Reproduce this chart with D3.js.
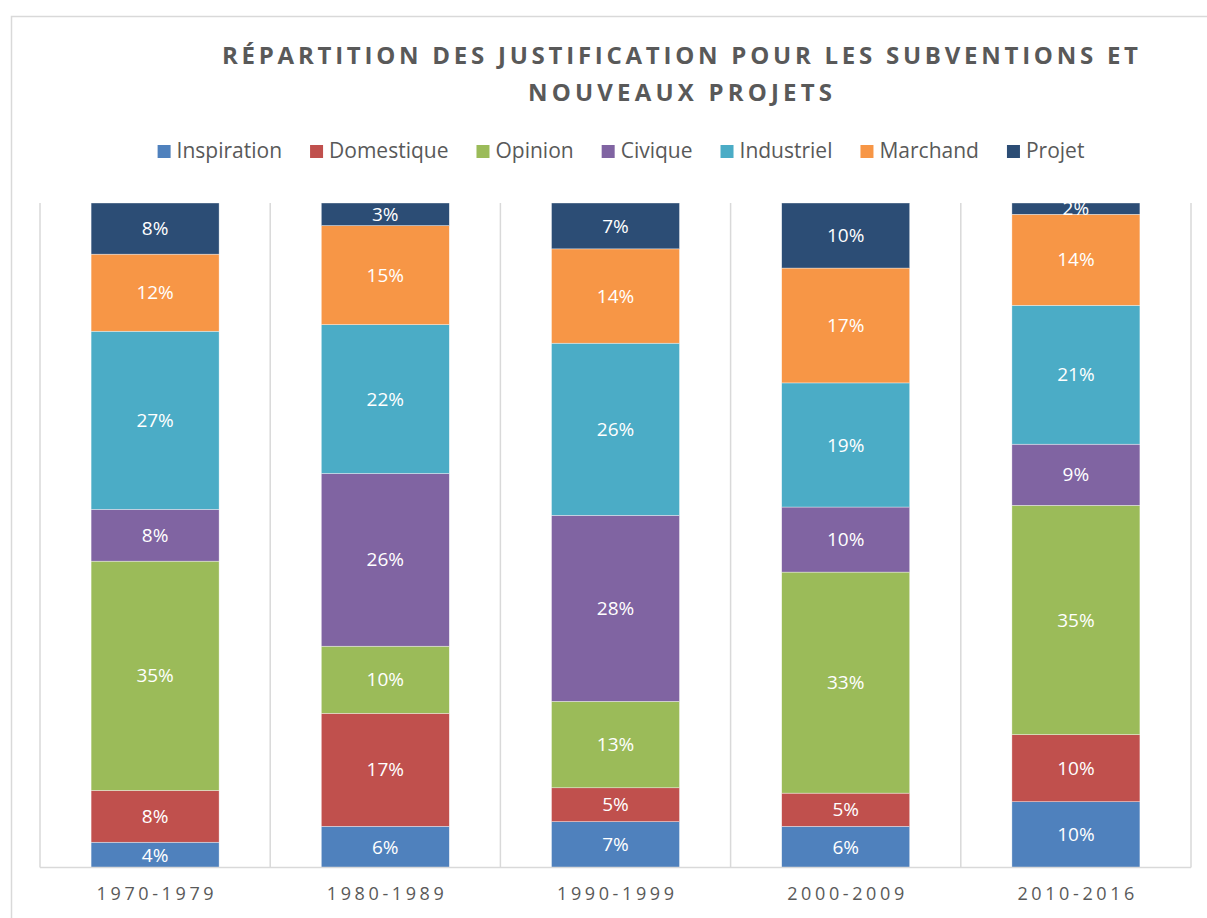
<!DOCTYPE html>
<html>
<head>
<meta charset="utf-8">
<script src="https://cdn.jsdelivr.net/npm/d3@7"></script>
<style>
  html, body { margin: 0; padding: 0; background: #fff; }
  svg { display: block; font-family: "Open Sans", "DejaVu Sans", sans-serif; }
</style>
</head>
<body>
<svg id="chart" width="1207" height="918"></svg>
<script>
// periods on the x axis
const periods = ['1970-1979', '1980-1989', '1990-1999', '2000-2009', '2010-2016'];
const seriesNames = ['Inspiration', 'Domestique', 'Opinion', 'Civique', 'Industriel', 'Marchand', 'Projet'];
const seriesColors = ['#4F81BD', '#C0504D', '#9BBB59', '#8064A2', '#4BACC6', '#F79646', '#2C4D75'];

// shares (%) per period, one array per series
const inspiration = [3.8, 6.2, 6.9, 6.2, 9.9];
const domestique  = [7.8, 17.0, 5.1, 5.0, 10.1];
const opinion     = [34.5, 10.1, 13.0, 33.3, 34.5];
const civique     = [7.8, 26.0, 28.0, 9.8, 9.2];
const industriel  = [26.8, 22.4, 25.9, 18.7, 20.9];
const marchand    = [11.6, 14.9, 14.2, 17.3, 13.7];
const projet      = [7.7, 3.4, 6.9, 9.8, 1.7];

const titleLines = ['RÉPARTITION DES JUSTIFICATION POUR LES SUBVENTIONS ET', 'NOUVEAUX PROJETS'];

const seriesValues = [inspiration, domestique, opinion, civique, industriel, marchand, projet];
const rows = periods.map((p, i) => {
  const r = { period: p };
  seriesNames.forEach((s, k) => r[s] = seriesValues[k][i]);
  return r;
});

const svg = d3.select('#chart');
const textColor = '#595959';
const gridColor = '#D9D9D9';

// outer chart frame
svg.append('rect')
  .attr('x', 11.5).attr('y', 16.5)
  .attr('width', 1300).attr('height', 1000)
  .attr('fill', 'none').attr('stroke', gridColor).attr('stroke-width', 1.5);

// title
svg.append('g').selectAll('text').data(titleLines).enter().append('text')
  .attr('x', 680)
  .attr('y', (d, i) => 64 + i * 37)
  .attr('text-anchor', 'middle')
  .attr('font-size', 24).attr('font-weight', 700)
  .attr('fill', textColor)
  .attr('textLength', (d, i) => i === 0 ? 916 : 304)
  .attr('lengthAdjust', 'spacing')
  .text(d => d);

// legend
const legend = svg.append('g');
let lx = 0;
seriesNames.forEach((s, i) => {
  const g = legend.append('g');
  g.append('rect').attr('x', 0).attr('y', -13).attr('width', 13).attr('height', 13)
    .attr('fill', seriesColors[i]);
  const t = g.append('text').attr('x', 19).attr('y', 0)
    .attr('font-size', 21).attr('fill', textColor).text(s);
  const w = 19 + t.node().getComputedTextLength();
  g.attr('transform', `translate(${lx},158)`);
  lx += w + 28;
});
const legendW = lx - 28;
legend.attr('transform', `translate(${621 - legendW / 2},0)`);

// scales
const plotTop = 203, plotBottom = 867.5, plotLeft = 40, plotRight = 1191;
const x = d3.scaleBand().domain(periods).range([plotLeft, plotRight])
  .paddingInner(0.444).paddingOuter(0.222);
const y = d3.scaleLinear().domain([0, 1]).range([plotBottom, plotTop]);

// vertical category separators
svg.append('g').selectAll('line').data(d3.range(periods.length + 1)).enter().append('line')
  .attr('x1', i => plotLeft + i * x.step()).attr('x2', i => plotLeft + i * x.step())
  .attr('y1', plotTop).attr('y2', plotBottom)
  .attr('stroke', gridColor).attr('stroke-width', 1.5);

const stack = d3.stack().keys(seriesNames).offset(d3.stackOffsetExpand);
const stacked = stack(rows);

const layers = svg.append('g').selectAll('g').data(stacked).enter().append('g')
  .attr('fill', (d, i) => seriesColors[i]);

layers.selectAll('rect').data(d => d).enter().append('rect')
  .attr('x', d => x(d.data.period))
  .attr('width', x.bandwidth())
  .attr('y', d => y(d[1]))
  .attr('height', d => y(d[0]) - y(d[1]))
  .attr('stroke', '#fff').attr('stroke-width', 0.6).attr('stroke-opacity', 0.6);

// data labels
layers.each(function (layer) {
  d3.select(this).selectAll('text').data(layer).enter().append('text')
    .attr('x', d => x(d.data.period) + x.bandwidth() / 2)
    .attr('y', d => (y(d[0]) + y(d[1])) / 2)
    .attr('dy', '0.35em')
    .attr('text-anchor', 'middle')
    .attr('font-size', 19).attr('fill', '#fff')
    .text(d => Math.round(d.data[layer.key]) + '%');
});

// bottom axis
const xAxis = svg.append('g').attr('transform', `translate(0,${plotBottom})`)
  .call(d3.axisBottom(x).tickSize(0).tickPadding(0));
xAxis.select('.domain').remove();
svg.append('line')
  .attr('x1', plotLeft).attr('x2', plotRight)
  .attr('y1', plotBottom).attr('y2', plotBottom)
  .attr('stroke', gridColor).attr('stroke-width', 1.5);
xAxis.selectAll('text')
  .attr('y', 32).attr('dy', 0)
  .attr('font-size', 18).attr('fill', textColor)
  .attr('font-family', '"Open Sans", sans-serif')
  .attr('textLength', 117).attr('lengthAdjust', 'spacing');
</script>
</body>
</html>
